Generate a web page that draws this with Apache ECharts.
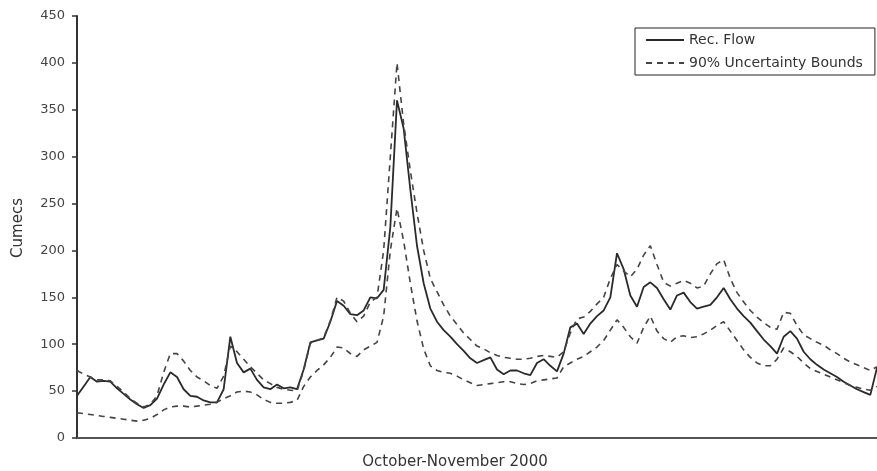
<!DOCTYPE html>
<html><head><meta charset="utf-8">
<script src="https://cdn.jsdelivr.net/npm/echarts@6/dist/echarts.min.js"></script>
<style>html,body{margin:0;padding:0;background:#fff}#c{width:877px;height:471px}</style>
</head><body><div id="c"></div>
<script>
// Daily-ish flow samples, October-November 2000
const recFlow = [45,55,65,60,61,60,53,47,41,36,32,35,42,57,70,65,52,45,44,40,
  38,38,52,108,80,70,74,62,54,52,57,53,54,52,73,102,104,106,124,146,
  141,132,131,136,150,149,158,225,360,330,265,205,165,138,124,115,108,100,93,85,
  80,83,86,73,68,72,72,69,67,80,84,77,71,90,118,122,111,122,130,136,
  150,197,180,152,140,161,166,160,148,137,152,155,145,138,140,142,150,160,148,138,
  130,123,114,105,98,90,108,114,106,92,84,78,73,69,65,60,56,52,49,46,75];
const upperBound = [72,68,65,62,62,61,55,49,42,37,33,36,45,70,90,90,82,72,65,61,
  56,53,66,98,92,84,76,69,62,58,54,52,51,50,72,101,104,107,125,150,
  146,133,124,130,145,150,200,300,400,335,285,240,200,170,156,142,130,121,112,105,
  98,95,91,88,86,85,84,84,85,87,88,87,86,92,112,127,129,135,143,150,
  170,185,178,172,180,195,205,185,166,162,165,168,165,160,162,175,186,190,170,155,
  145,136,129,123,118,116,134,133,120,110,106,102,99,94,90,85,81,78,75,72,76];
const lowerBound = [27,26,25,24,23,22,21,20,19,18,19,21,25,30,33,34,34,33,34,35,
  36,38,42,45,49,50,49,46,41,38,37,37,38,40,55,65,72,78,86,97,
  96,90,87,94,98,102,130,200,245,210,165,125,95,77,72,70,69,66,62,59,
  56,57,58,59,60,60,58,57,58,61,62,63,64,76,80,84,87,92,97,104,
  115,126,118,108,101,118,130,114,106,102,108,109,107,108,111,115,120,124,114,104,
  94,86,80,77,77,84,96,92,87,80,74,71,68,65,62,59,56,54,52,51,55];
const yTickValues = [0,50,100,150,200,250,300,350,400,450];
const categories = recFlow.map((_, i) => 'd' + i);

const FONT = '"DejaVu Sans", "Liberation Sans", sans-serif';
const chart = echarts.init(document.getElementById('c'), null, {renderer: 'canvas'});
chart.setOption({
  animation: false,
  backgroundColor: '#fff',
  grid: {left: 77, right: 0, top: 16, bottom: 33, containLabel: false},
  xAxis: {
    type: 'category', data: categories, boundaryGap: false,
    axisLine: {show: true, lineStyle: {color: '#555', width: 2}},
    axisTick: {show: false}, axisLabel: {show: false}, splitLine: {show: false}
  },
  yAxis: {
    type: 'value', min: yTickValues[0], max: yTickValues[yTickValues.length - 1], interval: 50,
    axisLine: {show: true, lineStyle: {color: '#333', width: 2}},
    axisTick: {show: true, length: 5, lineStyle: {color: '#333', width: 1.5}},
    axisLabel: {color: '#444', fontSize: 13, fontFamily: FONT, margin: 12},
    splitLine: {show: false}
  },
  legend: {
    orient: 'vertical', left: 635, top: 28,
    itemWidth: 38, itemHeight: 14, itemGap: 9,
    padding: [5, 12, 5, 10],
    borderColor: '#222', borderWidth: 1, backgroundColor: '#fff',
    itemStyle: {opacity: 0},
    textStyle: {fontSize: 14, color: '#333', fontFamily: FONT},
    data: ['Rec. Flow', '90% Uncertainty Bounds']
  },
  graphic: [
    {type: 'text', x: 18, y: 228, rotation: Math.PI / 2,
     style: {text: 'Cumecs', fill: '#333', font: '15px ' + FONT, align: 'center', verticalAlign: 'middle', textAlign: 'center', textVerticalAlign: 'middle'}},
    {type: 'text', x: 455, y: 462,
     style: {text: 'October-November 2000', fill: '#333', font: '15px ' + FONT, align: 'center', verticalAlign: 'middle', textAlign: 'center', textVerticalAlign: 'middle'}}
  ],
  series: [
    {type: 'line', name: 'Rec. Flow', data: recFlow, symbol: 'none', z: 3,
     itemStyle: {color: '#2a2a2a'}, lineStyle: {color: '#2a2a2a', width: 1.8}},
    {type: 'line', name: '90% Uncertainty Bounds', data: upperBound, symbol: 'none',
     itemStyle: {color: '#444'}, lineStyle: {color: '#444', width: 1.6, type: [6, 5]}},
    {type: 'line', name: '90% Uncertainty Bounds', data: lowerBound, symbol: 'none',
     itemStyle: {color: '#444'}, lineStyle: {color: '#444', width: 1.6, type: [6, 5]}}
  ]
});
</script>
</body></html>
